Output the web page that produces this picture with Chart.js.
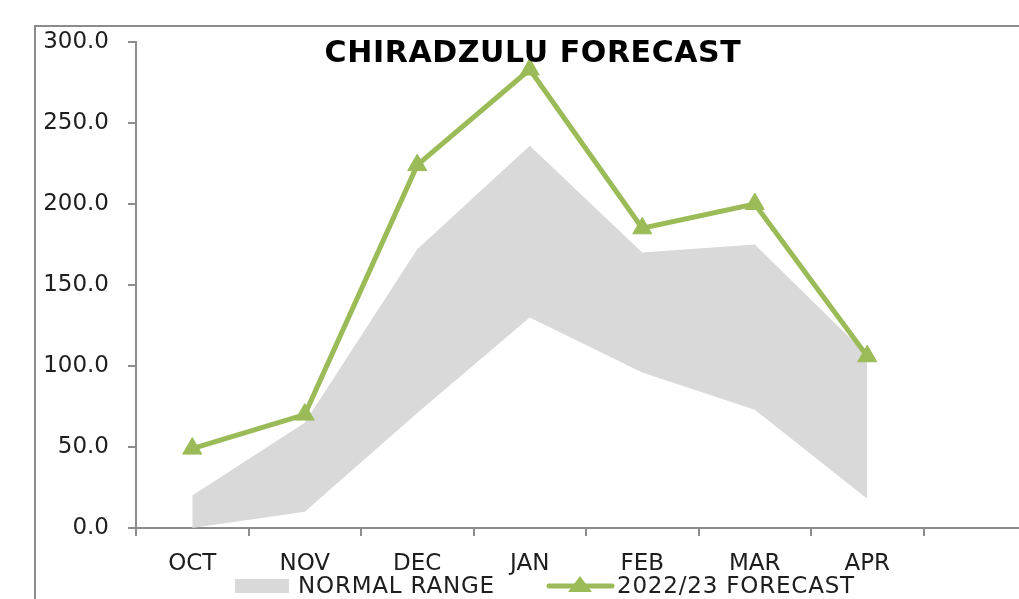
<!DOCTYPE html>
<html>
  <head>
    <title>Chiradzulu Forecast</title>
    <script src="https://cdn.jsdelivr.net/npm/chart.js"></script>
    <style>
      html,
      body {
        margin: 0;
        padding: 0;
        background: #fff;
        overflow: hidden;
        width: 1019px;
        height: 599px;
      }
      #frame {
        position: absolute;
        left: 34px;
        top: 25px;
        width: 1200px;
        height: 700px;
        border-left: 2px solid #8c8c8c;
        border-top: 2px solid #8c8c8c;
      }
      #wrap {
        position: absolute;
        left: 0;
        top: 0;
        width: 1100px;
        height: 599px;
      }
    </style>
  </head>
  <body>
    <div id="frame"></div>
    <div id="wrap"><canvas id="chart" width="1100" height="599"></canvas></div>

    <script>
      // values
      const months = ["OCT", "NOV", "DEC", "JAN", "FEB", "MAR", "APR", ""];
      const normalLow = [0, 10, 71, 130, 96, 73, 18, null];
      const normalHigh = [20, 65, 172, 236, 170, 175, 107, null];
      const forecast = [49, 70, 224, 283, 185, 200, 106, null];
      const yTicks = [0, 50, 100, 150, 200, 250, 300];

      const chartTitle = "CHIRADZULU FORECAST";
      const rangeLabel = "NORMAL RANGE";
      const forecastLabel = "2022/23 FORECAST";

      const green = "#9bbb59";
      const grey = "#d9d9d9";
      const axisGrey = "#8c8c8c";
      const font = "DejaVu Sans";

      // title sits over the plot, legend drawn excel-style under the axis
      const extras = {
        id: "extras",
        afterDraw(chart) {
          const ctx = chart.ctx;
          ctx.save();
          ctx.fillStyle = "#000";
          ctx.font = "bold 30px '" + font + "'";
          ctx.letterSpacing = "0.6px";
          ctx.textAlign = "center";
          ctx.textBaseline = "middle";
          ctx.fillText(chartTitle, 533, 54);

          ctx.font = "23px '" + font + "'";
          ctx.letterSpacing = "0.8px";
          ctx.textAlign = "left";
          const y = 586;

          // normal range swatch
          ctx.fillStyle = grey;
          ctx.fillRect(235, y - 7, 54, 14);
          ctx.fillStyle = "#1e1e1e";
          ctx.fillText(rangeLabel, 298, y + 1);

          // forecast line + marker
          ctx.strokeStyle = green;
          ctx.lineWidth = 5;
          ctx.lineCap = "round";
          ctx.beginPath();
          ctx.moveTo(549, y);
          ctx.lineTo(612, y);
          ctx.stroke();
          const cx = 580;
          ctx.fillStyle = green;
          ctx.beginPath();
          ctx.moveTo(cx, y - 10);
          ctx.lineTo(cx + 12, y + 6);
          ctx.lineTo(cx - 12, y + 6);
          ctx.closePath();
          ctx.fill();
          ctx.fillStyle = "#1e1e1e";
          ctx.fillText(forecastLabel, 617, y + 1);
          ctx.restore();
        },
      };

      new Chart(document.getElementById("chart"), {
        type: "line",
        data: {
          labels: months,
          datasets: [
            {
              label: forecastLabel,
              data: forecast,
              borderColor: green,
              backgroundColor: green,
              borderWidth: 5,
              tension: 0,
              pointStyle: "triangle",
              pointRadius: 11,
              pointBackgroundColor: green,
              pointBorderColor: green,
              pointBorderWidth: 1,
              fill: false,
              order: 0,
            },
            {
              label: "low",
              data: normalLow,
              borderWidth: 0,
              pointRadius: 0,
              fill: false,
              order: 2,
            },
            {
              label: rangeLabel,
              data: normalHigh,
              borderWidth: 0,
              pointRadius: 0,
              backgroundColor: grey,
              fill: "-1",
              order: 1,
            },
          ],
        },
        options: {
          responsive: false,
          animation: false,
          layout: { padding: { left: 0, top: 42, right: 64, bottom: 21 } },
          plugins: {
            legend: { display: false },
            title: { display: false },
            tooltip: { enabled: false },
          },
          scales: {
            x: {
              offset: true,
              grid: {
                offset: true,
                drawOnChartArea: false,
                drawTicks: true,
                tickLength: 8,
                color: axisGrey,
                lineWidth: 2,
              },
              border: { display: true, color: axisGrey, width: 2 },
              ticks: {
                font: { family: font, size: 23 },
                color: "#1e1e1e",
                padding: 14,
                maxRotation: 0,
                autoSkip: false,
              },
              afterFit(scale) {
                scale.height = 50;
              },
            },
            y: {
              min: 0,
              max: 300,
              afterBuildTicks(scale) {
                scale.ticks = yTicks.map((v) => ({ value: v }));
              },
              grid: {
                drawOnChartArea: false,
                drawTicks: true,
                tickLength: 8,
                color: axisGrey,
                lineWidth: 2,
              },
              border: { display: true, color: axisGrey, width: 2 },
              ticks: {
                font: { family: font, size: 23 },
                color: "#1e1e1e",
                padding: 19,
                callback: (v) => Number(v).toFixed(1),
              },
              afterFit(scale) {
                scale.width = 136;
              },
            },
          },
        },
        plugins: [extras],
      });
    </script>
  </body>
</html>
